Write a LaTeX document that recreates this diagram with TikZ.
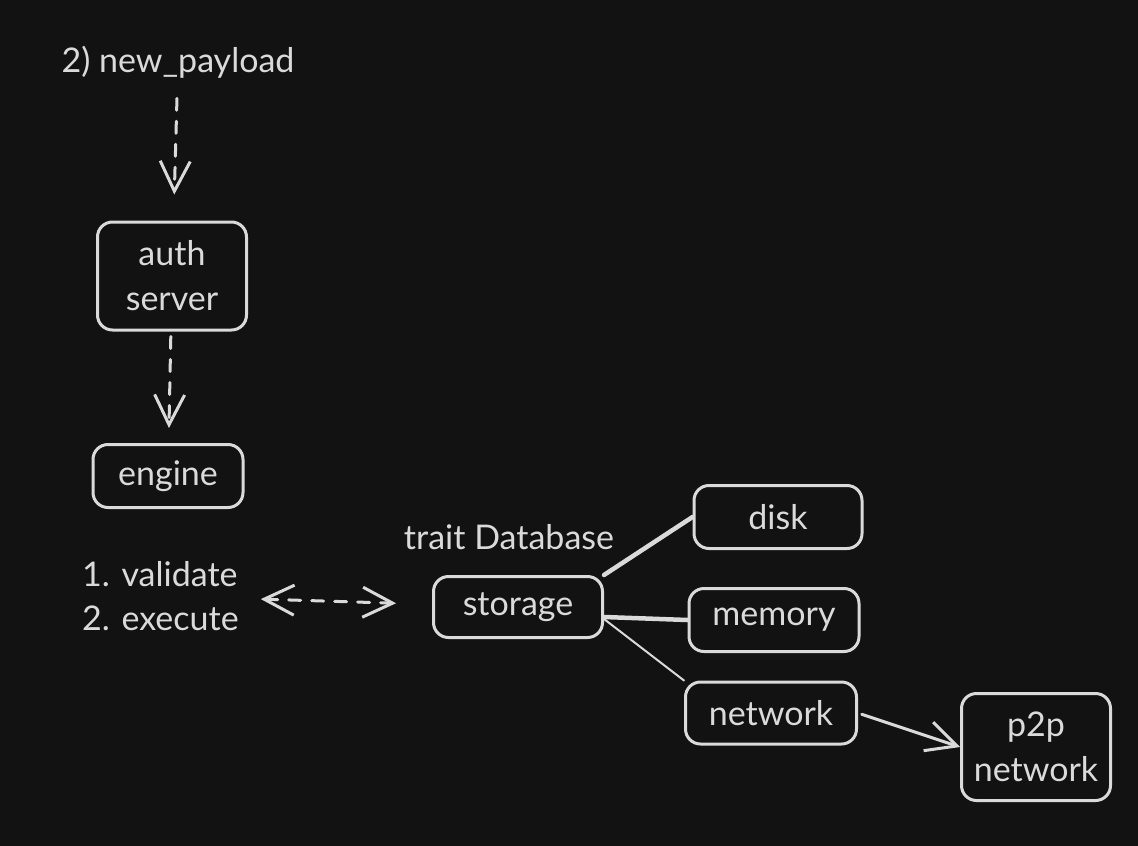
\documentclass[tikz,border=0pt]{standalone}
\usepackage{fontspec}
\setmainfont{Lato}
\usetikzlibrary{arrows.meta, positioning}
\definecolor{bg}{HTML}{121212}
\definecolor{ink}{HTML}{DADADA}

\begin{document}
\begin{tikzpicture}[x=1pt, y=-1pt, >={Straight Barb[length=30pt, width=30pt]},
    box/.style={draw=ink, line width=3pt, rounded corners=15pt, text=ink, align=center,
        font=\fontsize{34}{45}\selectfont, minimum height=63pt, inner sep=0pt},
    lbl/.style={text=ink, font=\fontsize{34}{44}\selectfont, inner sep=0pt},
    link/.style={draw=ink, line width=3pt, line cap=round},
    flow/.style={link, dash pattern=on 12pt off 11pt, ->}]
  \fill[bg] (0,0) rectangle (1138,846);
  \useasboundingbox (0,0) rectangle (1138,846);

  \node[lbl] (payload) at (178,62) {2) new\_payload};
  \node[box, minimum width=149pt, minimum height=108pt] (auth) at (172,276) {auth\\server};
  \node[box, minimum width=150pt] (engine) at (168,476) {engine};
  \node[lbl, align=left, anchor=west] (steps) at (82,596) {1. validate\\2. execute};
  \node[lbl] (trait) at (509,537) {trait Database};
  \node[box, minimum width=169pt, minimum height=61pt] (storage) at (518,607) {storage};
  \node[box, minimum width=168pt] (disk) at (778,517) {disk};
  \node[box, minimum width=170pt] (memory) at (774,620) {memory};
  \node[box, minimum width=171pt, minimum height=62pt] (network) at (771,713) {network};
  \node[box, minimum width=149pt, minimum height=107pt] (p2p) at (1036,747) {p2p\\network};

  \draw[flow, shorten <=20pt, shorten >=26pt] (payload) -- (auth);
  \draw[flow, shorten <=5pt, shorten >=15pt] (auth) -- (engine);
  \draw[flow, <->, shorten <=22pt, shorten >=36pt] (steps) -- (storage);
  \draw[link, line width=4.5pt] (storage.north east) -- (disk.west);
  \draw[link, line width=4.5pt] ([yshift=-10pt]storage.east) -- (memory.west);
  \draw[link, line width=2pt] ([yshift=-12pt]storage.east) -- (network.north west);
  \draw[link, ->, shorten <=4pt] (network.east) -- (p2p.west);
\end{tikzpicture}
\end{document}
